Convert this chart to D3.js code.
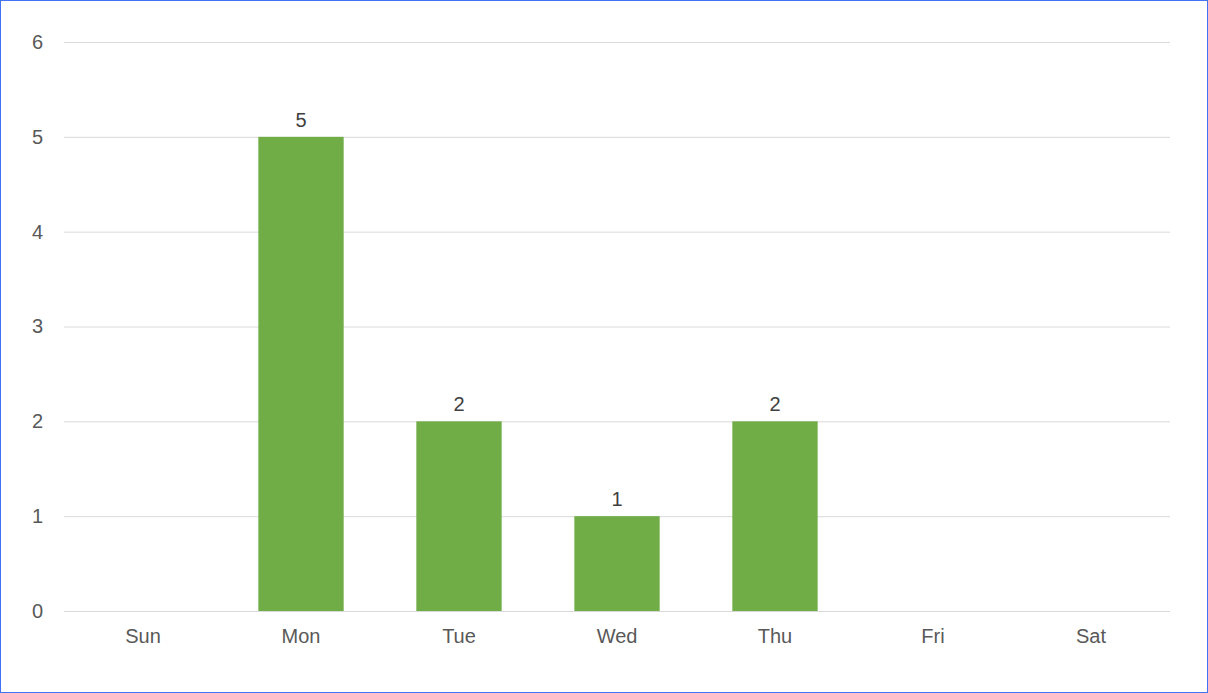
<!DOCTYPE html>
<html><head><meta charset="utf-8">
<script src="https://cdn.jsdelivr.net/npm/d3@7"></script>
<style>
  html, body { margin: 0; padding: 0; background: #fff; }
  #chart { width: 1208px; height: 693px; }
  .tick text { font-family: "Liberation Sans", Arial, sans-serif; font-size: 20px; fill: #595959; }
  .grid line { stroke: #d9d9d9; stroke-width: 1px; }
  .bar-label { font-family: "Liberation Sans", Arial, sans-serif; font-size: 20px; fill: #404040; }
</style>
</head><body>
<div id="chart"></div>
<script>
// data
const days = ["Sun", "Mon", "Tue", "Wed", "Thu", "Fri", "Sat"];
const counts = [null, 5, 2, 1, 2, null, null];
const yTicks = [0, 1, 2, 3, 4, 5, 6];

const W = 1208, H = 693;
const margin = { top: 42, right: 38, bottom: 82, left: 64 };
const width = W - margin.left - margin.right;
const height = H - margin.top - margin.bottom;

const root = d3.select("#chart").append("svg")
  .attr("width", W).attr("height", H);

// outer border
root.append("rect")
  .attr("x", 0.5).attr("y", 0.5)
  .attr("width", W - 1).attr("height", H - 1)
  .attr("fill", "none").attr("stroke", "#4472f4");

const svg = root.append("g")
  .attr("transform", `translate(${margin.left},${margin.top})`);

const x = d3.scaleBand().domain(days).range([0, width]).paddingInner(0.46).paddingOuter(0.23);
const y = d3.scaleLinear().domain([0, 6]).range([height, 0]);

// gridlines + y labels
svg.append("g")
  .attr("class", "grid")
  .call(d3.axisLeft(y).tickValues(yTicks).tickSize(-width).tickPadding(21).tickFormat(d3.format("d")))
  .call(g => g.select(".domain").remove());

// x axis
svg.append("g")
  .attr("transform", `translate(0,${height})`)
  .call(d3.axisBottom(x).tickSize(0).tickPadding(18))
  .call(g => g.select(".domain").remove());

const rows = days.map((d, i) => ({ day: d, value: counts[i] })).filter(d => d.value != null);

svg.selectAll(".bar")
  .data(rows)
  .enter().append("rect")
    .attr("class", "bar")
    .attr("x", d => x(d.day))
    .attr("y", d => y(d.value))
    .attr("width", x.bandwidth())
    .attr("height", d => height - y(d.value))
    .attr("fill", "#70ad47");

svg.selectAll(".bar-label")
  .data(rows)
  .enter().append("text")
    .attr("class", "bar-label")
    .attr("x", d => x(d.day) + x.bandwidth() / 2)
    .attr("y", d => y(d.value) - 10)
    .attr("text-anchor", "middle")
    .text(d => d.value);
</script>
</body></html>
